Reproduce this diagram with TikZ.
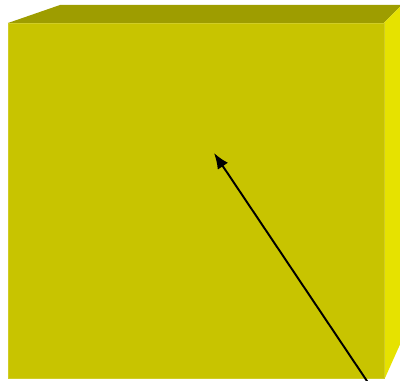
\documentclass[tikz,border=0pt]{standalone}
\usetikzlibrary{arrows.meta}
\definecolor{boxfront}{RGB}{200,196,0}
\definecolor{boxtop}{RGB}{158,157,0}
\definecolor{boxside}{RGB}{230,226,0}
\begin{document}
\begin{tikzpicture}[x=0.02cm, y=-0.02cm]
  \useasboundingbox (0,0) rectangle (400,381);
  \clip (0,0) rectangle (400,381);
  % Faces
  \fill[boxtop] (8,23) -- (60,5) -- (402,5) -- (384,23) -- cycle;
  \fill[boxside] (384,23) -- (402,5) -- (402,340) -- (385,378) -- cycle;
  \node[fill=boxfront, draw=boxfront!85!white, line width=0.4pt, rectangle, inner sep=0pt, minimum width=7.52cm, minimum height=7.1cm, anchor=north west] (front) at (8,23) {};

  % Arrow
  \coordinate (tail) at (369,384);
  \coordinate (tip) at (214,153);
  \draw[-{Latex[length=9pt, width=7pt]}, line width=1.1pt] (tail) -- (tip);
\end{tikzpicture}
\end{document}
